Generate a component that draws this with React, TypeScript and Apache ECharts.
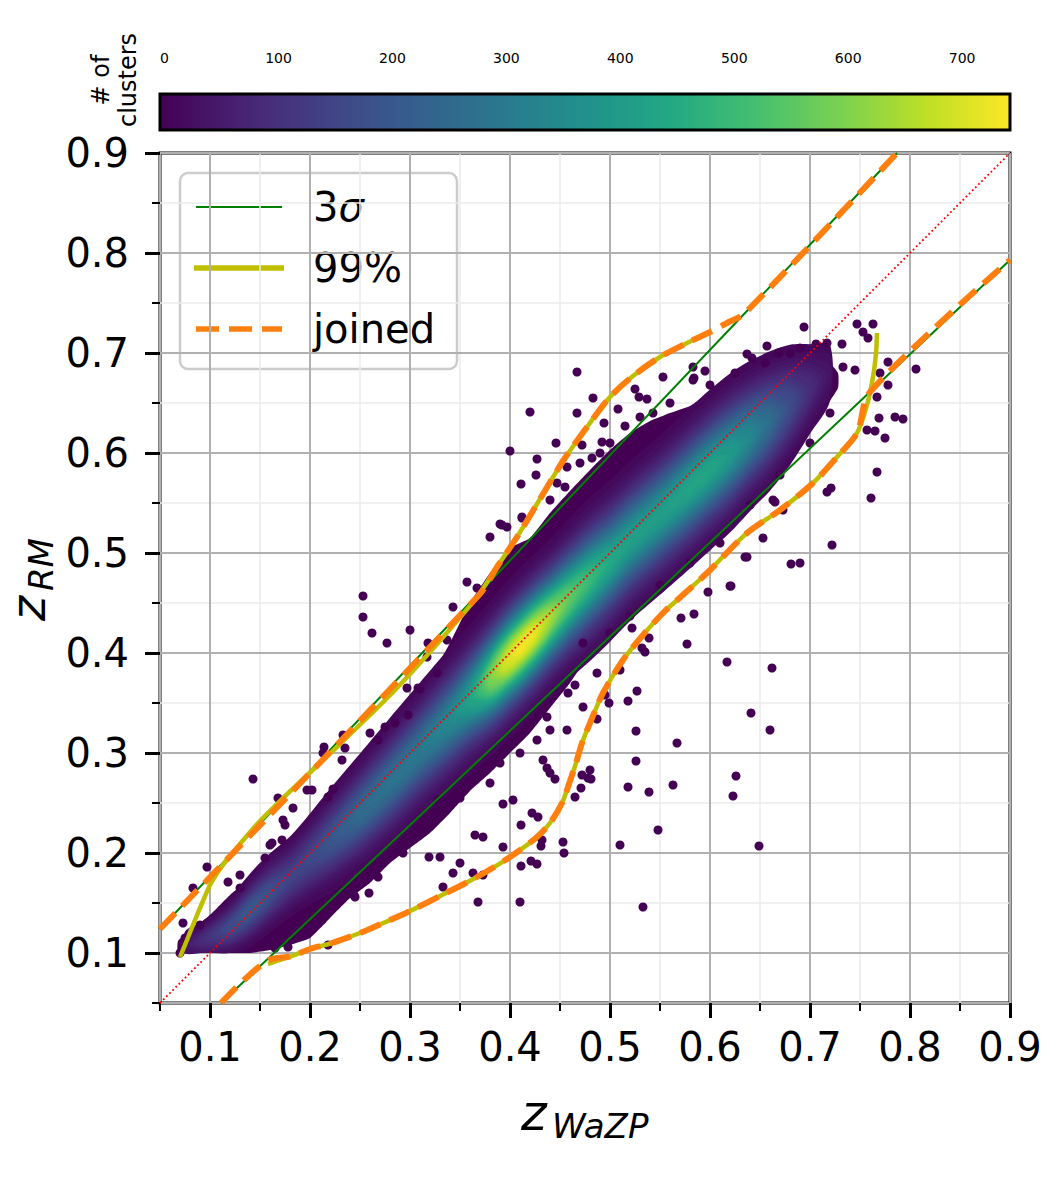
import React, { useEffect, useRef } from 'react';
import * as echarts from 'echarts';

const FONT = 'DejaVu Sans';
const X_MIN = 0.05, X_MAX = 0.9, Y_MIN = 0.05, Y_MAX = 0.9;
const MAJOR_TICKS = [0.1, 0.2, 0.3, 0.4, 0.5, 0.6, 0.7, 0.8, 0.9];
const TICK_LABELS = ['0.1', '0.2', '0.3', '0.4', '0.5', '0.6', '0.7', '0.8', '0.9'];
const CB_MIN = -4, CB_MAX = 742;
const CB_TICKS = [0, 100, 200, 300, 400, 500, 600, 700];
const ZRM_FLOOR = 0.1;
const VIRIDIS = ['#440154', '#482475', '#414487', '#355f8d', '#2a788e', '#21918c', '#22a884', '#44bf70', '#7ad151', '#bddf26', '#fde725'];

// density ridge of the cluster cloud
const RIDGE_X = [0.075, 0.09, 0.105, 0.12, 0.135, 0.145, 0.16, 0.18, 0.20, 0.22, 0.25, 0.28, 0.31, 0.34, 0.36, 0.38, 0.395, 0.41, 0.425, 0.44, 0.46, 0.48, 0.50, 0.52, 0.55, 0.58, 0.60, 0.62, 0.64, 0.66, 0.68, 0.70, 0.72];
const RIDGE_Y = [0.108, 0.112, 0.118, 0.126, 0.138, 0.147, 0.16, 0.176, 0.194, 0.212, 0.24, 0.27, 0.302, 0.333, 0.354, 0.374, 0.39, 0.405, 0.42, 0.435, 0.455, 0.474, 0.492, 0.512, 0.538, 0.565, 0.583, 0.60, 0.617, 0.632, 0.648, 0.664, 0.68];
const RIDGE_PEAK = [50, 90, 130, 170, 200, 205, 185, 150, 160, 200, 260, 280, 300, 350, 430, 600, 700, 740, 720, 650, 560, 500, 450, 420, 415, 435, 435, 405, 345, 265, 175, 95, 40];
const RIDGE_SIGMA = [0.008, 0.009, 0.011, 0.013, 0.015, 0.016, 0.017, 0.018, 0.02, 0.022, 0.024, 0.026, 0.027, 0.028, 0.028, 0.028, 0.028, 0.028, 0.028, 0.028, 0.029, 0.03, 0.03, 0.03, 0.03, 0.03, 0.03, 0.03, 0.029, 0.028, 0.026, 0.022, 0.018];

// outer envelope of the dense purple cloud
const ENV_X = [0.068, 0.08, 0.10, 0.12, 0.14, 0.16, 0.18, 0.20, 0.22, 0.24, 0.26, 0.28, 0.30, 0.32, 0.34, 0.36, 0.38, 0.40, 0.42, 0.44, 0.46, 0.48, 0.50, 0.52, 0.54, 0.56, 0.58, 0.60, 0.62, 0.64, 0.66, 0.68, 0.70, 0.715, 0.728];
const ENV_UP = [0.112, 0.122, 0.138, 0.158, 0.175, 0.195, 0.215, 0.232, 0.25, 0.28, 0.305, 0.325, 0.345, 0.375, 0.41, 0.45, 0.48, 0.505, 0.515, 0.54, 0.562, 0.583, 0.603, 0.62, 0.632, 0.64, 0.647, 0.66, 0.668, 0.678, 0.686, 0.693, 0.70, 0.695, 0.68];
const ENV_LO = [0.100, 0.100, 0.100, 0.100, 0.100, 0.103, 0.108, 0.115, 0.135, 0.155, 0.17, 0.19, 0.205, 0.22, 0.24, 0.262, 0.28, 0.30, 0.32, 0.345, 0.37, 0.40, 0.43, 0.445, 0.46, 0.482, 0.50, 0.517, 0.54, 0.558, 0.575, 0.597, 0.625, 0.645, 0.665];

// individual clusters outside / on the edge of the dense cloud
const DOTS = [
  [0.467, 0.681], [0.42, 0.641], [0.467, 0.640], [0.446, 0.610], [0.472, 0.608], [0.40, 0.602], [0.427, 0.594], [0.426, 0.578], [0.411, 0.569], [0.39, 0.529], [0.38, 0.516], [0.397, 0.526], [0.412, 0.535], [0.447, 0.57], [0.483, 0.655], [0.508, 0.644], [0.525, 0.664], [0.537, 0.654], [0.553, 0.676], [0.583, 0.686], [0.492, 0.611], [0.50, 0.61], [0.482, 0.595], [0.457, 0.586], [0.543, 0.64], [0.583, 0.673], [0.595, 0.682], [0.584, 0.675], [0.529, 0.656], [0.494, 0.63],
  [0.694, 0.726], [0.747, 0.729], [0.763, 0.729], [0.753, 0.721], [0.758, 0.715], [0.657, 0.707], [0.669, 0.70], [0.637, 0.699], [0.642, 0.695], [0.706, 0.709], [0.717, 0.71], [0.732, 0.709], [0.778, 0.691], [0.806, 0.684], [0.733, 0.686], [0.745, 0.683], [0.77, 0.68], [0.778, 0.668], [0.767, 0.656], [0.769, 0.635], [0.785, 0.636], [0.793, 0.634], [0.757, 0.623], [0.765, 0.622], [0.775, 0.615], [0.767, 0.581], [0.761, 0.555], [0.722, 0.508], [0.681, 0.489], [0.717, 0.561], [0.721, 0.565], [0.665, 0.551], [0.673, 0.543], [0.635, 0.496], [0.68, 0.70], [0.668, 0.70],
  [0.621, 0.467], [0.598, 0.461], [0.584, 0.439], [0.571, 0.435], [0.577, 0.409], [0.617, 0.391], [0.662, 0.385], [0.641, 0.34], [0.66, 0.323], [0.527, 0.362], [0.518, 0.352], [0.499, 0.35], [0.473, 0.346], [0.526, 0.322], [0.567, 0.31], [0.526, 0.292], [0.626, 0.277], [0.623, 0.257], [0.563, 0.268], [0.539, 0.261], [0.518, 0.266], [0.481, 0.274], [0.472, 0.278], [0.471, 0.265], [0.548, 0.223], [0.51, 0.208], [0.649, 0.207], [0.533, 0.146], [0.487, 0.334], [0.532, 0.405], [0.539, 0.415], [0.535, 0.401], [0.522, 0.425], [0.51, 0.383],
  [0.253, 0.457], [0.253, 0.436], [0.262, 0.42], [0.277, 0.41], [0.30, 0.423], [0.143, 0.274], [0.343, 0.446], [0.318, 0.41], [0.308, 0.365], [0.233, 0.318], [0.214, 0.306], [0.213, 0.30], [0.26, 0.32], [0.197, 0.263], [0.223, 0.264], [0.168, 0.255], [0.173, 0.233], [0.16, 0.208], [0.13, 0.178], [0.097, 0.186], [0.083, 0.165], [0.073, 0.13], [0.118, 0.171],
  [0.453, 0.211], [0.454, 0.20], [0.41, 0.151], [0.368, 0.151], [0.411, 0.187], [0.427, 0.189], [0.421, 0.192], [0.431, 0.207], [0.35, 0.19], [0.343, 0.18], [0.333, 0.166], [0.363, 0.18], [0.373, 0.178], [0.319, 0.196], [0.33, 0.196], [0.293, 0.20], [0.259, 0.16], [0.244, 0.158], [0.218, 0.108], [0.173, 0.115], [0.393, 0.206], [0.393, 0.249], [0.403, 0.253], [0.373, 0.216], [0.365, 0.218], [0.422, 0.24], [0.428, 0.236], [0.411, 0.228], [0.432, 0.213], [0.445, 0.274], [0.437, 0.285], [0.465, 0.256], [0.478, 0.275],
  [0.392, 0.528], [0.31, 0.364], [0.297, 0.365], [0.327, 0.38], [0.317, 0.396], [0.337, 0.413], [0.357, 0.471], [0.367, 0.465], [0.412, 0.536], [0.458, 0.36], [0.465, 0.368], [0.437, 0.336], [0.457, 0.323], [0.44, 0.323], [0.427, 0.313], [0.473, 0.41], [0.487, 0.38], [0.495, 0.358], [0.433, 0.293], [0.48, 0.283], [0.44, 0.28],
  [0.245, 0.156], [0.162, 0.21], [0.175, 0.228], [0.155, 0.195], [0.172, 0.213], [0.183, 0.245], [0.202, 0.263], [0.218, 0.256], [0.232, 0.293], [0.235, 0.305], [0.275, 0.326], [0.285, 0.33], [0.268, 0.313], [0.298, 0.338], [0.178, 0.106], [0.165, 0.105], [0.195, 0.123], [0.212, 0.133], [0.242, 0.16], [0.255, 0.183], [0.268, 0.176], [0.288, 0.206], [0.302, 0.216], [0.318, 0.233], [0.328, 0.253],
  [0.69, 0.49], [0.637, 0.496], [0.663, 0.553], [0.62, 0.467], [0.653, 0.515],
  [0.44, 0.553], [0.455, 0.566], [0.47, 0.59], [0.49, 0.60], [0.515, 0.627], [0.53, 0.636], [0.56, 0.65], [0.60, 0.668], [0.625, 0.68], [0.655, 0.69], [0.69, 0.705],
  [0.50, 0.42], [0.52, 0.437], [0.55, 0.468], [0.58, 0.49], [0.61, 0.51], [0.64, 0.548], [0.67, 0.578], [0.70, 0.61], [0.72, 0.64],
  [0.07, 0.10], [0.075, 0.115], [0.09, 0.128], [0.13, 0.165], [0.35, 0.255], [0.38, 0.27], [0.39, 0.29], [0.41, 0.30],
];

// 3 sigma lines
const SIGMA_UPPER = [[0.05, 0.124], [0.787, 0.9]];
const SIGMA_LOWER = [[0.111, 0.05], [0.9, 0.793]];
// 99% curves
const P99_UPPER = [[0.07, 0.096], [0.077, 0.113], [0.085, 0.133], [0.093, 0.152], [0.10, 0.168], [0.11, 0.184], [0.12, 0.197], [0.135, 0.215], [0.15, 0.232], [0.17, 0.252], [0.19, 0.271], [0.21, 0.29], [0.23, 0.309], [0.26, 0.338], [0.287, 0.365], [0.32, 0.401], [0.347, 0.432], [0.367, 0.456], [0.387, 0.486], [0.407, 0.516], [0.43, 0.554], [0.453, 0.592], [0.477, 0.626], [0.50, 0.656], [0.523, 0.677], [0.55, 0.696], [0.577, 0.71], [0.60, 0.721]];
const P99_LOWER = [[0.158, 0.089], [0.182, 0.097], [0.20, 0.104], [0.222, 0.11], [0.25, 0.12], [0.262, 0.125], [0.30, 0.142], [0.332, 0.158], [0.367, 0.176], [0.40, 0.196], [0.427, 0.216], [0.44, 0.23], [0.452, 0.25], [0.46, 0.272], [0.466, 0.29], [0.472, 0.31], [0.48, 0.33], [0.493, 0.36], [0.513, 0.393], [0.533, 0.418], [0.553, 0.44], [0.575, 0.46], [0.597, 0.48], [0.637, 0.52], [0.67, 0.543], [0.703, 0.57], [0.727, 0.596], [0.747, 0.62], [0.757, 0.648], [0.763, 0.676], [0.766, 0.70], [0.767, 0.72]];
// joined curves
const JOINED_UPPER = [[0.05, 0.124], [0.369, 0.458], [0.387, 0.486], [0.407, 0.516], [0.43, 0.554], [0.453, 0.592], [0.477, 0.626], [0.50, 0.656], [0.523, 0.677], [0.55, 0.696], [0.577, 0.71], [0.60, 0.721], [0.617, 0.73], [0.635, 0.74], [0.787, 0.9]];
const JOINED_LOWER = [[0.111, 0.05], [0.156, 0.0915], [0.182, 0.097], [0.20, 0.104], [0.222, 0.11], [0.25, 0.12], [0.262, 0.125], [0.30, 0.142], [0.332, 0.158], [0.367, 0.176], [0.40, 0.196], [0.427, 0.216], [0.44, 0.23], [0.452, 0.25], [0.46, 0.272], [0.466, 0.29], [0.472, 0.31], [0.48, 0.33], [0.493, 0.36], [0.513, 0.393], [0.533, 0.418], [0.553, 0.44], [0.575, 0.46], [0.597, 0.48], [0.637, 0.52], [0.67, 0.543], [0.703, 0.57], [0.727, 0.596], [0.747, 0.62], [0.760, 0.661], [0.9, 0.793]];
const ONE_TO_ONE = [[0.05, 0.05], [0.9, 0.9]];

function hexRgb(h: string) {
  return [parseInt(h.slice(1, 3), 16), parseInt(h.slice(3, 5), 16), parseInt(h.slice(5, 7), 16)];
}
function viridis(t: number) {
  const tt = Math.max(0, Math.min(1, t));
  const n = VIRIDIS.length - 1;
  const i = Math.min(n - 1, Math.floor(tt * n));
  const f = tt * n - i;
  const a = hexRgb(VIRIDIS[i]), b = hexRgb(VIRIDIS[i + 1]);
  const c = a.map((v, k) => Math.round(v + (b[k] - v) * f));
  return `rgb(${c[0]},${c[1]},${c[2]})`;
}

function levelPolys(L: number) {
  const polys: number[][][] = [];
  let up: number[][] | null = null;
  let lo: number[][] = [];
  const N = RIDGE_X.length;
  for (let i = 0; i < N; i++) {
    const p = RIDGE_PEAK[i];
    if (p > L) {
      if (!up) {
        up = [];
        lo = [];
        if (i > 0) {
          const f = (L - RIDGE_PEAK[i - 1]) / (p - RIDGE_PEAK[i - 1]);
          up.push([RIDGE_X[i - 1] + f * (RIDGE_X[i] - RIDGE_X[i - 1]), RIDGE_Y[i - 1] + f * (RIDGE_Y[i] - RIDGE_Y[i - 1])]);
        }
      }
      const hw = RIDGE_SIGMA[i] * Math.sqrt(2 * Math.log(p / L));
      up.push([RIDGE_X[i], RIDGE_Y[i] + hw]);
      lo.push([RIDGE_X[i], Math.max(ZRM_FLOOR, RIDGE_Y[i] - hw)]);
    } else if (up) {
      const pp = RIDGE_PEAK[i - 1];
      const f = (pp - L) / (pp - p);
      up.push([RIDGE_X[i - 1] + f * (RIDGE_X[i] - RIDGE_X[i - 1]), RIDGE_Y[i - 1] + f * (RIDGE_Y[i] - RIDGE_Y[i - 1])]);
      polys.push(up.concat(lo.slice().reverse()));
      up = null;
    }
  }
  if (up) polys.push(up.concat(lo.slice().reverse()));
  return polys;
}

const LEVEL_STEP = 12;

export default function App() {
  const ref = useRef<HTMLDivElement>(null);
  useEffect(() => {
    document.body.style.margin = '0';
    if (!ref.current) return;
    const chart = echarts.init(ref.current, undefined, { renderer: 'svg' });
    const labelFmt = (v: number) => {
      const i = MAJOR_TICKS.findIndex((t) => Math.abs(t - v) < 1e-6);
      return i >= 0 ? TICK_LABELS[i] : '';
    };
    const levels: number[] = [];
    for (let L = LEVEL_STEP; L < 740; L += LEVEL_STEP) levels.push(L);

    const lineSeries = (data: number[][], color: string, width: number, type: any, z: number, smooth: number) => ({
      type: 'line',
      xAxisIndex: 0,
      yAxisIndex: 0,
      data,
      symbol: 'none',
      showSymbol: false,
      smooth,
      clip: true,
      z,
      silent: true,
      lineStyle: { color, width, type, cap: 'butt' },
    });

    const option: any = {
      animation: false,
      backgroundColor: '#ffffff',
      textStyle: { fontFamily: FONT },
      grid: [
        { left: 160, top: 153, width: 850, height: 850, show: true, borderColor: '#000', borderWidth: 3, backgroundColor: 'rgba(0,0,0,0)' },
        { left: 160, top: 94, width: 850, height: 36, show: false },
      ],
      xAxis: [
        {
          gridIndex: 0, type: 'value', min: X_MIN, max: X_MAX, interval: 0.05, position: 'bottom',
          axisLine: { show: false },
          axisTick: { show: true, length: 8, lineStyle: { color: '#000', width: 2 } },
          axisLabel: { show: false },
          splitLine: { show: true, lineStyle: { color: '#ebebeb', width: 1.5 } },
        },
        {
          gridIndex: 0, type: 'value', min: X_MIN, max: X_MAX, interval: 0.05, position: 'bottom',
          axisLine: { show: false },
          axisTick: { show: true, length: 15, customValues: MAJOR_TICKS, lineStyle: { color: '#000', width: 3 } },
          axisLabel: { show: true, customValues: MAJOR_TICKS, formatter: labelFmt, fontSize: 40, color: '#000', margin: 24, fontFamily: FONT },
          splitLine: { show: false },
        },
        {
          gridIndex: 1, type: 'value', min: CB_MIN, max: CB_MAX, position: 'top',
          axisLine: { show: false },
          axisTick: { show: true, length: 15, customValues: CB_TICKS, lineStyle: { color: '#000', width: 2 } },
          axisLabel: { show: true, customValues: CB_TICKS, fontSize: 14, color: '#000', margin: 29, fontFamily: FONT },
          splitLine: { show: false },
        },
      ],
      yAxis: [
        {
          gridIndex: 0, type: 'value', min: Y_MIN, max: Y_MAX, interval: 0.05, position: 'left',
          axisLine: { show: false },
          axisTick: { show: true, length: 8, lineStyle: { color: '#000', width: 2 } },
          axisLabel: { show: false },
          splitLine: { show: true, lineStyle: { color: '#ebebeb', width: 1.5 } },
        },
        {
          gridIndex: 0, type: 'value', min: Y_MIN, max: Y_MAX, interval: 0.05, position: 'left',
          axisLine: { show: false },
          axisTick: { show: true, length: 15, customValues: MAJOR_TICKS, lineStyle: { color: '#000', width: 3 } },
          axisLabel: { show: true, customValues: MAJOR_TICKS, formatter: labelFmt, fontSize: 40, color: '#000', margin: 31, fontFamily: FONT },
          splitLine: { show: false },
        },
        { gridIndex: 1, type: 'value', min: 0, max: 1, show: false },
      ],
      series: [
        {
          // major grid lines
          type: 'custom', xAxisIndex: 0, yAxisIndex: 0, z: 1, silent: true,
          data: MAJOR_TICKS.map((t) => [t, t]),
          renderItem: (params: any, api: any) => {
            const v = api.value(0);
            const a = api.coord([v, Y_MIN]), b = api.coord([v, Y_MAX]);
            const c = api.coord([X_MIN, v]), d = api.coord([X_MAX, v]);
            return {
              type: 'group',
              children: [
                { type: 'line', shape: { x1: a[0], y1: a[1], x2: b[0], y2: b[1] }, style: { stroke: '#b0b0b0', lineWidth: 2 } },
                { type: 'line', shape: { x1: c[0], y1: c[1], x2: d[0], y2: d[1] }, style: { stroke: '#b0b0b0', lineWidth: 2 } },
              ],
            };
          },
        },
        {
          // dense purple envelope
          type: 'custom', xAxisIndex: 0, yAxisIndex: 0, z: 2, silent: true, clip: true,
          data: [[0.4, 0.4]],
          renderItem: (params: any, api: any) => {
            const pts = ENV_X.map((x, i) => api.coord([x, ENV_UP[i]])).concat(ENV_X.map((x, i) => api.coord([x, ENV_LO[i]])).reverse());
            return { type: 'polygon', shape: { points: pts, smooth: 0.15 }, style: { fill: VIRIDIS[0] } };
          },
        },
        {
          type: 'scatter', xAxisIndex: 0, yAxisIndex: 0, z: 2, silent: true,
          data: DOTS, symbolSize: 9, itemStyle: { color: VIRIDIS[0], opacity: 1 },
        },
        {
          // density levels
          type: 'custom', xAxisIndex: 0, yAxisIndex: 0, z: 2, silent: true, clip: true,
          data: [[0.4, 0.4]],
          renderItem: (params: any, api: any) => {
            const children: any[] = [];
            for (const L of levels) {
              const color = viridis((L - CB_MIN) / (CB_MAX - CB_MIN));
              for (const poly of levelPolys(L)) {
                children.push({ type: 'polygon', shape: { points: poly.map((p) => api.coord(p)), smooth: 0.3 }, style: { fill: color } });
              }
            }
            return { type: 'group', children };
          },
        },
        lineSeries(SIGMA_UPPER, '#008000', 2, 'solid', 3, 0),
        lineSeries(SIGMA_LOWER, '#008000', 2, 'solid', 3, 0),
        lineSeries(P99_UPPER, '#bfbf00', 4.5, 'solid', 4, 0.3),
        lineSeries(P99_LOWER, '#bfbf00', 4.5, 'solid', 4, 0.3),
        lineSeries(JOINED_UPPER, '#ff7f0e', 6, [22, 10], 5, 0.3),
        lineSeries(JOINED_LOWER, '#ff7f0e', 6, [22, 10], 5, 0.3),
        lineSeries(ONE_TO_ONE, '#ff0000', 1.8, [1.8, 2.6], 6, 0),
        {
          // colorbar
          type: 'custom', xAxisIndex: 2, yAxisIndex: 2, z: 2, silent: true,
          data: [[CB_MIN, 0, CB_MAX, 1]],
          renderItem: (params: any, api: any) => {
            const p0 = api.coord([api.value(0), api.value(1)]);
            const p1 = api.coord([api.value(2), api.value(3)]);
            return {
              type: 'rect',
              shape: { x: p0[0], y: p1[1], width: p1[0] - p0[0], height: p0[1] - p1[1] },
              style: {
                fill: new echarts.graphic.LinearGradient(0, 0, 1, 0, VIRIDIS.map((c, i) => ({ offset: i / (VIRIDIS.length - 1), color: c }))),
                stroke: '#000', lineWidth: 3,
              },
            };
          },
        },
      ],
      graphic: [
        {
          type: 'group', z: 100,
          children: [
            { type: 'rect', shape: { x: 180, y: 173, width: 277, height: 196, r: 8 }, style: { fill: 'rgba(255,255,255,0.8)', stroke: '#cccccc', lineWidth: 2.5 } },
            { type: 'line', shape: { x1: 196, y1: 207, x2: 282, y2: 207 }, style: { stroke: '#008000', lineWidth: 2 } },
            { type: 'line', shape: { x1: 194, y1: 268, x2: 284, y2: 268 }, style: { stroke: '#bfbf00', lineWidth: 5.5 } },
            { type: 'line', shape: { x1: 196, y1: 329, x2: 282, y2: 329 }, style: { stroke: '#ff7f0e', lineWidth: 5.5, lineDash: [23, 10] } },
            { type: 'text', x: 313, y: 207, style: { text: '3{s|σ}', rich: { s: { fontStyle: 'italic', fontSize: 40, fontFamily: FONT } }, fontSize: 40, fontFamily: FONT, fill: '#000', verticalAlign: 'middle' } },
            { type: 'text', x: 313, y: 268, style: { text: '99%', fontSize: 40, fontFamily: FONT, fill: '#000', verticalAlign: 'middle' } },
            { type: 'text', x: 313, y: 329, style: { text: 'joined', fontSize: 40, fontFamily: FONT, fill: '#000', verticalAlign: 'middle' } },
          ],
        },
        {
          type: 'group', x: 521, y: 1130,
          children: [
            { type: 'text', x: 0, y: -17, style: { text: 'z', fontSize: 49, lineHeight: 30, fontStyle: 'italic', fontFamily: FONT, fill: '#000', verticalAlign: 'middle' } },
            { type: 'text', x: 31, y: -4, style: { text: 'WaZP', fontSize: 34, lineHeight: 26, fontStyle: 'italic', fontFamily: FONT, fill: '#000', verticalAlign: 'middle' } },
          ],
        },
        {
          type: 'group', x: 45, y: 621, rotation: Math.PI / 2,
          children: [
            { type: 'text', x: 0, y: -17, style: { text: 'z', fontSize: 48, lineHeight: 30, fontStyle: 'italic', fontFamily: FONT, fill: '#000', verticalAlign: 'middle' } },
            { type: 'text', x: 30, y: -4, style: { text: 'RM', fontSize: 34, lineHeight: 26, fontStyle: 'italic', fontFamily: FONT, fill: '#000', verticalAlign: 'middle' } },
          ],
        },
        {
          type: 'text', x: 114, y: 80, rotation: Math.PI / 2,
          style: { text: '# of\nclusters', fontSize: 24, lineHeight: 27, fontFamily: FONT, fill: '#000', align: 'center', verticalAlign: 'middle' },
        },
      ],
    };
    chart.setOption(option);
    return () => chart.dispose();
  }, []);
  return <div ref={ref} style={{ width: 1062, height: 1181 }} />;
}
